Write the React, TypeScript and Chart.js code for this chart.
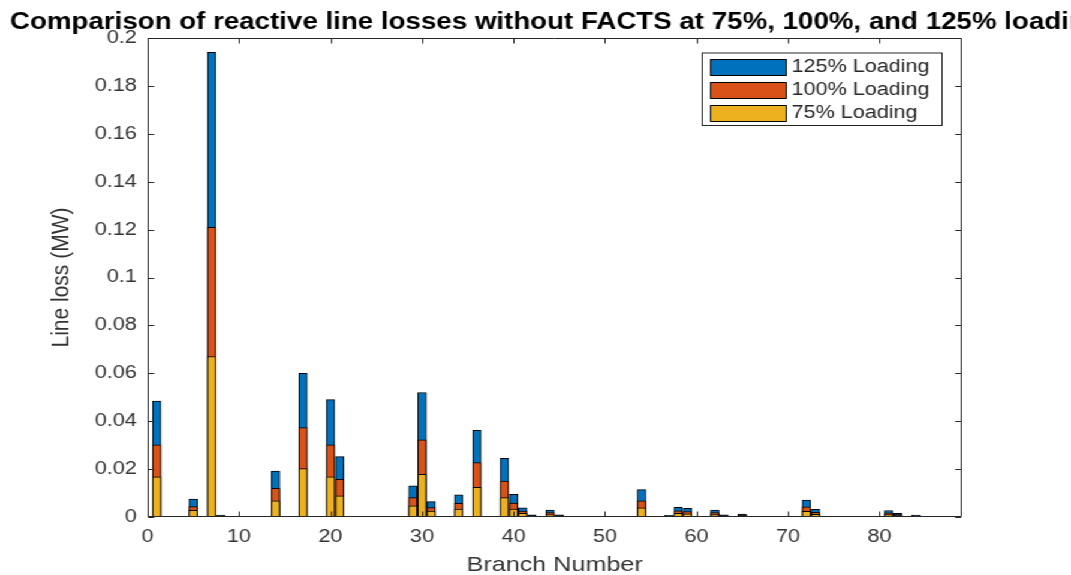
import React, { useEffect, useRef } from "react";
import { Chart, registerables } from "chart.js";

Chart.register(...registerables);

// ---- data ----
const branches = [1, 5, 7, 8, 14, 17, 20, 21, 29, 30, 31, 34, 36, 39, 40, 41, 42, 44, 45, 54, 57, 58, 59, 62, 63, 65, 72, 73, 81, 82, 84];
const loss125 = [0.0484, 0.0075, 0.194, 0.0008, 0.0192, 0.060, 0.049, 0.0252, 0.013, 0.052, 0.0064, 0.0093, 0.0362, 0.0245, 0.0095, 0.0038, 0.0009, 0.0029, 0.0009, 0.0114, 0.0007, 0.0040, 0.0036, 0.0029, 0.0009, 0.0012, 0.0071, 0.0032, 0.0027, 0.0015, 0.0008];
const loss100 = [0.0301, 0.0043, 0.121, 0.0005, 0.012, 0.0373, 0.0301, 0.0157, 0.0081, 0.0322, 0.0039, 0.0057, 0.0227, 0.015, 0.0058, 0.0025, 0.0006, 0.0018, 0.0006, 0.0068, 0.0004, 0.0026, 0.0023, 0.0018, 0.0006, 0.0008, 0.0042, 0.002, 0.0017, 0.001, 0.0005];
const loss75 = [0.0168, 0.0028, 0.067, 0.0003, 0.0068, 0.0202, 0.0168, 0.0088, 0.0047, 0.0178, 0.0025, 0.0033, 0.0124, 0.0081, 0.0033, 0.0015, 0.0003, 0.001, 0.0003, 0.0038, 0.0002, 0.0015, 0.0013, 0.001, 0.0003, 0.0005, 0.0024, 0.0011, 0.001, 0.0006, 0.0003];
const xTickValues = [0, 10, 20, 30, 40, 50, 60, 70, 80];
const yTickValues = [0, 0.02, 0.04, 0.06, 0.08, 0.1, 0.12, 0.14, 0.16, 0.18, 0.2];
const seriesNames = ["125% Loading", "100% Loading", "75% Loading"];
const seriesColors = ["#0072BD", "#D95319", "#EDB120"];
const titleText = "Comparison of reactive line losses without FACTS at 75%, 100%, and 125% loading";
const xTitle = "Branch Number";
const yTitle = "Line loss (MW)";

// ---- layout ----
const W = 893;
const H = 575;
const SX = 1071 / W;
const AXIS = "#262626";
const FONT = "'Liberation Sans', Arial, sans-serif";

const decor = {
  id: "matlabDecor",
  afterDraw(chart: any) {
    const { ctx, chartArea: a, scales } = chart;
    const xs = scales.x;
    const ys = scales.y;
    ctx.save();
    ctx.strokeStyle = AXIS;
    ctx.lineWidth = 1;
    const L = Math.round(a.left) + 0.5;
    const R = Math.round(a.right) - 0.5;
    const T = Math.round(a.top) + 0.5;
    const B = Math.round(a.bottom) - 0.5;
    ctx.beginPath();
    ctx.rect(L, T, R - L, B - T);
    ctx.stroke();
    const tl = 5;
    ctx.beginPath();
    xTickValues.forEach((v) => {
      const px = Math.round(xs.getPixelForValue(v)) + 0.5;
      ctx.moveTo(px, B);
      ctx.lineTo(px, B - tl);
      ctx.moveTo(px, T);
      ctx.lineTo(px, T + tl);
    });
    yTickValues.forEach((v) => {
      const py = Math.round(ys.getPixelForValue(v)) + 0.5;
      ctx.moveTo(L, py);
      ctx.lineTo(L + tl, py);
      ctx.moveTo(R, py);
      ctx.lineTo(R - tl, py);
    });
    ctx.stroke();

    // title
    ctx.fillStyle = "#000";
    ctx.font = `bold 23.1px ${FONT}`;
    ctx.textAlign = "left";
    ctx.textBaseline = "alphabetic";
    ctx.fillText(titleText, 8.3, 29);

    // legend
    const bx = 585, by = 52.5, bw = 200, bh = 72.5;
    ctx.fillStyle = "#fff";
    ctx.fillRect(bx, by, bw, bh);
    ctx.strokeStyle = AXIS;
    ctx.strokeRect(bx + 0.5, by + 0.5, bw, bh);
    ctx.font = `18px ${FONT}`;
    ctx.textBaseline = "middle";
    seriesNames.forEach((name, i) => {
      const sy = 59 + i * 23;
      ctx.fillStyle = seriesColors[i];
      ctx.fillRect(592, sy, 63, 16);
      ctx.strokeStyle = "#000";
      ctx.strokeRect(592.5, sy + 0.5, 63, 16);
      ctx.fillStyle = AXIS;
      ctx.fillText(name, 660, sy + 8.5);
    });
    ctx.restore();
  },
};

export default function App() {
  const ref = useRef<HTMLCanvasElement | null>(null);

  useEffect(() => {
    document.body.style.margin = "0";
    const canvas = ref.current;
    if (!canvas) return;
    const series = [loss125, loss100, loss75];
    const chart = new Chart(canvas, {
      type: "bar",
      data: {
        datasets: series.map((vals, i) => ({
          label: seriesNames[i],
          data: branches.map((b, j) => ({ x: b, y: vals[j] })),
          backgroundColor: seriesColors[i],
          borderColor: "#000",
          borderWidth: 1,
          borderSkipped: false,
          barThickness: 7,
          grouped: false,
          order: 3 - i,
        })),
      },
      options: {
        animation: false,
        responsive: false,
        devicePixelRatio: 1,
        layout: { padding: { top: 38, right: 91, left: 0, bottom: 0 } },
        plugins: {
          legend: { display: false },
          tooltip: { enabled: false },
          title: { display: false },
        },
        scales: {
          x: {
            type: "linear",
            min: 0,
            max: 89,
            offset: false,
            grid: { display: false, drawTicks: false },
            border: { display: false },
            afterBuildTicks: (s: any) => {
              s.ticks = xTickValues.map((v) => ({ value: v }));
            },
            afterFit: (s: any) => {
              s.height = 58;
            },
            ticks: {
              color: "#333",
              padding: 9,
              maxRotation: 0,
              autoSkip: false,
              font: { family: FONT, size: 18 },
              callback: (v: any) => String(v),
            },
            title: {
              display: true,
              text: xTitle,
              color: "#333",
              font: { family: FONT, size: 21 },
              padding: { top: 0, bottom: -3 },
            },
          },
          y: {
            type: "linear",
            min: 0,
            max: 0.2,
            grid: { display: false, drawTicks: false },
            border: { display: false },
            afterBuildTicks: (s: any) => {
              s.ticks = yTickValues.map((v) => ({ value: v }));
            },
            afterFit: (s: any) => {
              s.width = 123;
            },
            ticks: {
              color: "#333",
              padding: 9,
              autoSkip: false,
              font: { family: FONT, size: 18 },
              callback: (v: any) => String(parseFloat(Number(v).toFixed(3))),
            },
            title: {
              display: true,
              text: yTitle,
              color: "#333",
              font: { family: FONT, size: 21 },
              padding: { top: 38.5, bottom: 0 },
            },
          },
        },
      },
      plugins: [decor],
    });
    return () => chart.destroy();
  }, []);

  return (
    <div
      style={{
        position: "absolute",
        left: 0,
        top: 0,
        width: W,
        height: H,
        background: "#fff",
        transform: `scaleX(${SX})`,
        transformOrigin: "0 0",
      }}
    >
      <canvas ref={ref} width={W} height={H} style={{ width: W, height: H, display: "block" }} />
    </div>
  );
}
